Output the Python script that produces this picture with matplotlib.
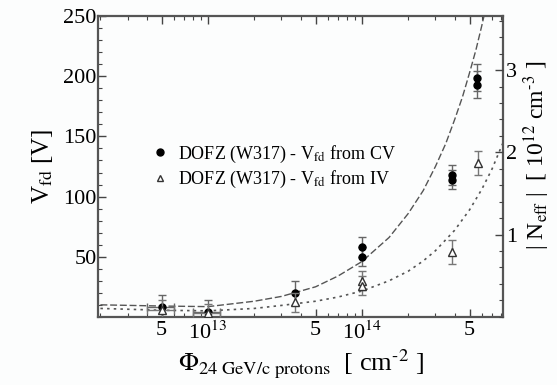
import numpy as np
import matplotlib
matplotlib.use("Agg")
import matplotlib.pyplot as plt
from matplotlib.lines import Line2D
from matplotlib.ticker import FixedLocator, FixedFormatter, MultipleLocator, NullFormatter

plt.rcParams['font.family'] = ['Liberation Serif', 'DejaVu Serif']
plt.rcParams['mathtext.fontset'] = 'stix'

# fluence in cm^-2, voltages in V
cv_phi = [5e12, 1e13, 3.67e13, 1e14, 1e14, 3.85e14, 3.85e14, 5.6e14, 5.6e14]
cv_v = [8, 4, 20, 58, 50, 118, 114, 199, 193]
cv_err = [10, 10, 10, 8, 8, 8, 8, 11, 11]
cv_xerr = [1e12, 2e12, 0, 0, 0, 0, 0, 0, 0]

iv_phi = [5e12, 1e13, 3.67e13, 1e14, 1e14, 3.85e14, 5.7e14]
iv_v = [6, 3, 12, 30, 26, 54, 128]
iv_err = [8, 8, 8, 8, 8, 10, 10]
iv_xerr = [1e12, 2e12, 0, 0, 0, 0, 0]

# fit curves (fluence in 1e13 cm^-2)
fit_cv_phi = [0.2, 0.5, 1, 2, 3, 5, 7, 10, 15, 20, 25, 30, 35, 40, 45, 50, 55, 60, 62]
fit_cv_v = [10, 9, 8.5, 13, 17, 25, 34, 46, 66, 86, 105, 125, 144, 164, 183, 203, 222, 242, 250]
fit_iv_phi = [0.2, 0.5, 1, 2, 3, 5, 7, 10, 15, 20, 25, 30, 40, 50, 60, 70, 82]
fit_iv_v = [7, 5.5, 5, 7, 9.5, 13, 16.5, 21.5, 30, 38, 46.5, 55, 72, 89, 106, 123, 144]

labels = ['DOFZ (W317) - V$_{\\rm fd}$ from CV', 'DOFZ (W317) - V$_{\\rm fd}$ from IV']

fig = plt.figure(figsize=(5.57, 3.85), dpi=100, facecolor='#fcfdfd')
ax = fig.add_axes([0.176, 0.177, 0.727, 0.781])
ax.set_facecolor('#fcfdfd')

ax.plot(np.array(fit_cv_phi) * 1e13, fit_cv_v, color='#555555', lw=1.0, ls=(0, (5, 2)))
ax.plot(np.array(fit_iv_phi) * 1e13, fit_iv_v, color='#555555', lw=1.2, ls=(0, (1.5, 2.5)))

ax.errorbar(cv_phi, cv_v, yerr=cv_err, xerr=cv_xerr, fmt='o', color='black', ms=5,
            ecolor='#666666', elinewidth=1, capsize=3)
ax.errorbar(iv_phi, iv_v, yerr=iv_err, xerr=iv_xerr, fmt='^', mfc='white', mec='#333333', mew=1,
            ms=6, ecolor='#777777', elinewidth=1, capsize=3, zorder=3)

ax.set_xscale('log')
ax.set_xlim(1.93e12, 8.24e14)
ax.set_ylim(0, 250)

ax.xaxis.set_major_locator(FixedLocator([5e12, 1e13, 5e13, 1e14, 5e14]))
ax.xaxis.set_major_formatter(FixedFormatter(['5', '10$^{13}$', '5', '10$^{14}$', '5']))
minor = [m * 10.0 ** e for e in (12, 13, 14) for m in range(2, 10)]
ax.xaxis.set_minor_locator(FixedLocator(minor))
ax.xaxis.set_minor_formatter(NullFormatter())

ax.yaxis.set_major_locator(FixedLocator([50, 100, 150, 200, 250]))
ax.yaxis.set_minor_locator(MultipleLocator(10))

ax.tick_params(which='both', direction='in', top=True, right=False, colors='#444444', labelcolor='black')
ax.tick_params(which='major', length=6, width=1)
ax.tick_params(which='minor', length=3, width=0.8)
ax.tick_params(axis='y', labelsize=16, pad=1)
ax.tick_params(axis='x', labelsize=16, pad=3)

for s in ax.spines.values():
    s.set_color('#555555')
    s.set_linewidth(1.6)

ax.set_ylabel('V$_{\\rm fd}$ [V]', fontsize=18, labelpad=6)
ax.set_xlabel('$\\Phi_{\\rm 24\\ GeV/c\\ protons}$  [ cm$^{\\text{-2}}$ ]', fontsize=19, labelpad=3)

# right axis: |Neff| for 300 um
ax2 = ax.twinx()
ax2.set_ylim(0, 250 / 68.4)
ax2.yaxis.set_major_locator(FixedLocator([1, 2, 3]))
ax2.yaxis.set_minor_locator(MultipleLocator(0.2))
ax2.tick_params(which='both', direction='in', colors='#444444', labelcolor='black')
ax2.tick_params(which='major', length=6, width=1, labelsize=16, pad=2)
ax2.tick_params(which='minor', length=3, width=0.8)
for s in ax2.spines.values():
    s.set_visible(False)
fig.text(0.963, 0.597, '| N$_{\\rm eff}$ |  [ 10$^{12}$ cm$^{\\text{-3}}$ ]', fontsize=17,
         rotation=90, ha='center', va='center')

handles = [Line2D([], [], ls='none', marker='o', color='black', ms=5),
           Line2D([], [], ls='none', marker='^', mfc='white', mec='#333333', ms=5)]
ax.legend(handles, labels, loc='upper left', bbox_to_anchor=(0.09, 0.63), frameon=False, fontsize=13,
          handletextpad=0.5, labelspacing=0.25, handlelength=1.0)

fig.savefig('out.png', dpi=100, facecolor=fig.get_facecolor())
